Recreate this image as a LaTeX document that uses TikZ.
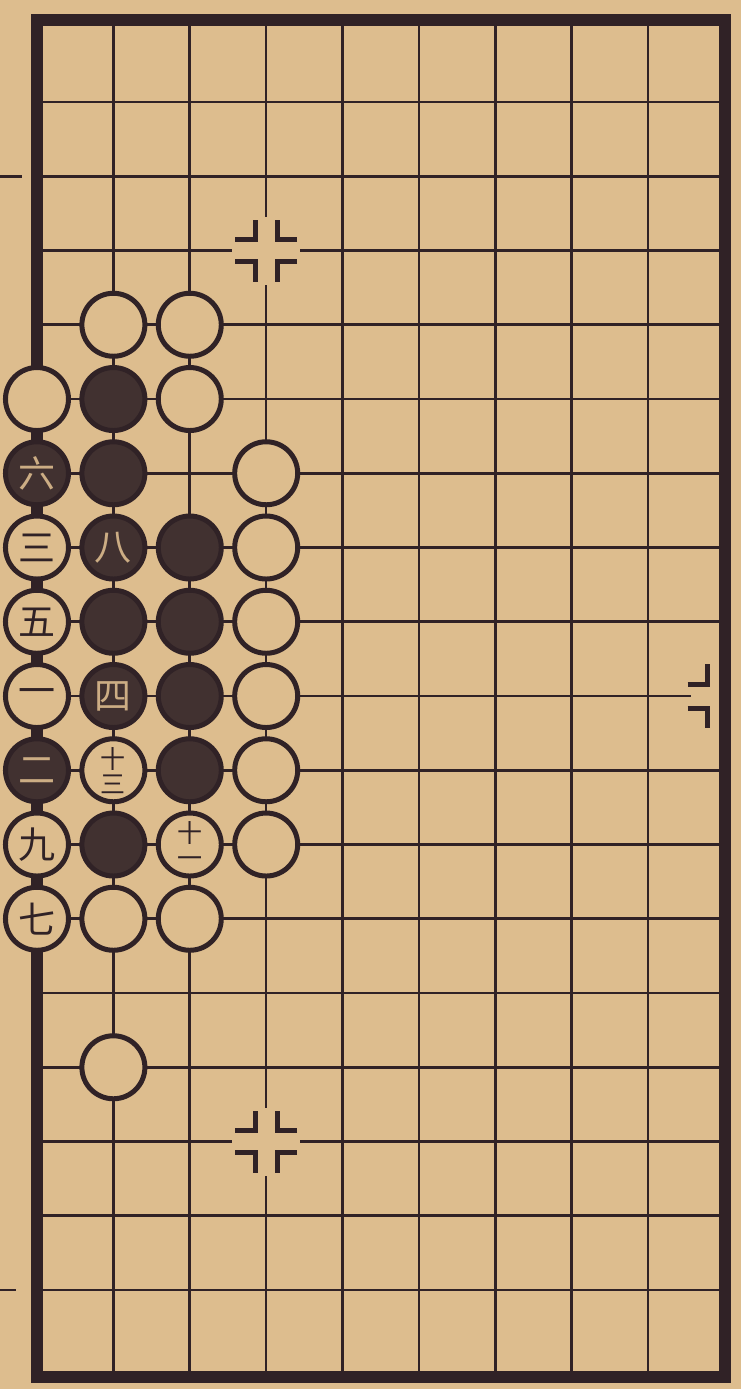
\documentclass[tikz,border=0pt]{standalone}
\usepackage{fontspec}
\usepackage{xcolor}
\usepackage{tikz}
\newfontfamily\cjk{Noto Sans CJK SC}
\definecolor{paperc}{RGB}{221,189,142}
\definecolor{inkc}{RGB}{48,34,38}

\begin{document}
\begin{tikzpicture}[
    x=76.4pt, y=-74.25pt,
    gridline/.style={draw=inkc, line width=2.6pt},
    frameline/.style={draw=inkc, line width=12pt},
    markline/.style={draw=inkc, line width=5pt},
    wstone/.style={circle, draw=inkc, fill=paperc, line width=5pt, minimum size=63pt, inner sep=0pt, text=inkc, font=\cjk\fontsize{37}{37}\selectfont},
    bstone/.style={wstone, fill=inkc!90!paperc, text=paperc!90!inkc},
    twoline/.style={align=center, font=\cjk\fontsize{25}{25}\selectfont}
]
% paper and page size
\fill[paperc] (-0.484,-0.374) rectangle (9.215,18.333);
\useasboundingbox (-0.484,-0.374) rectangle (9.215,18.333);

% grid lines
\foreach \c in {1,...,8} \draw[gridline] (\c,-0.104) -- (\c,18.17);
\foreach \r in {1,...,17} \draw[gridline] (0,\r) -- (9,\r);
\draw[gridline] (-0.484,2) -- (-0.2,2);
\draw[gridline] (-0.484,17) -- (-0.28,17);

% star points
\coordinate (s1) at (3,3);
\coordinate (s2) at (3,15);
\coordinate (s3) at (9,9);
\foreach \s in {s1,s2}
    \fill[paperc] ([shift={(-34pt,-34pt)}]\s) rectangle ([shift={(34pt,34pt)}]\s);
\fill[paperc] ([shift={(-34pt,-34pt)}]s3) rectangle ([shift={(0pt,34pt)}]s3);

% frame
\draw[frameline] (0,-0.104) rectangle (9,18.17);

\foreach \s in {s1,s2}
    \foreach \sx/\sy in {-1/1,1/1,-1/-1,1/-1}
        \draw[markline, shift={(\s)}] (\sx*31pt,\sy*11pt) -- (\sx*11pt,\sy*11pt) -- (\sx*11pt,\sy*31pt);
\foreach \sy in {1,-1}
    \draw[markline, shift={(s3)}] (-37pt,\sy*12pt) -- (-17pt,\sy*12pt) -- (-17pt,\sy*32pt);

% stones
\node[wstone] (wa) at (1,4) {};
\node[wstone] (wb) at (2,4) {};
\node[wstone] (wc) at (0,5) {};
\node[bstone] (ba) at (1,5) {};
\node[wstone] (wd) at (2,5) {};
\node[bstone] (m6) at (0,6) {六};
\node[bstone] (bb) at (1,6) {};
\node[wstone] (we) at (3,6) {};
\node[wstone] (m3) at (0,7) {三};
\node[bstone] (m8) at (1,7) {八};
\node[bstone] (bc) at (2,7) {};
\node[wstone] (wf) at (3,7) {};
\node[wstone] (m5) at (0,8) {五};
\node[bstone] (bd) at (1,8) {};
\node[bstone] (be) at (2,8) {};
\node[wstone] (wg) at (3,8) {};
\node[wstone] (m1) at (0,9) {一};
\node[bstone] (m4) at (1,9) {四};
\node[bstone] (bf) at (2,9) {};
\node[wstone] (wh) at (3,9) {};
\node[bstone] (m2) at (0,10) {二};
\node[wstone, twoline] (m13) at (1,10) {十\\三};
\node[bstone] (bg) at (2,10) {};
\node[wstone] (wi) at (3,10) {};
\node[wstone] (m9) at (0,11) {九};
\node[bstone] (bh) at (1,11) {};
\node[wstone, twoline] (m11) at (2,11) {十\\一};
\node[wstone] (wj) at (3,11) {};
\node[wstone] (m7) at (0,12) {七};
\node[wstone] (wk) at (1,12) {};
\node[wstone] (wl) at (2,12) {};
\node[wstone] (wm) at (1,14) {};
\end{tikzpicture}
\end{document}
